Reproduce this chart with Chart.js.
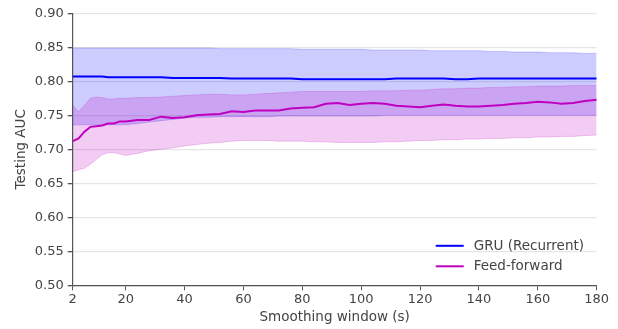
<!DOCTYPE html>
<html>
<head>
<meta charset="utf-8">
<script src="https://cdn.jsdelivr.net/npm/chart.js@4/dist/chart.umd.min.js"></script>
<style>
  html, body { margin: 0; padding: 0; background: #fff; }
  canvas { display: block; }
</style>
</head>
<body>
<canvas id="grafico" width="618" height="329"></canvas>
<script>
// =============================
// DADOS
// =============================

const janelas = [2, 4, 6, 8, 10, 12, 14, 16, 18, 20, 24, 28, 32, 36, 40, 44, 48, 52, 56, 60,
    64, 68, 72, 76, 80, 84, 88, 92, 96, 100, 104, 108, 112, 116, 120, 124, 128, 132, 136, 140,
    144, 148, 152, 156, 160, 164, 168, 172, 176, 180];

const gruMedia = [0.807, 0.807, 0.807, 0.807, 0.807, 0.807, 0.806, 0.806, 0.806, 0.806,
    0.806, 0.806, 0.806, 0.805, 0.805, 0.805, 0.805, 0.805, 0.804, 0.804,
    0.804, 0.804, 0.804, 0.804, 0.803, 0.803, 0.803, 0.803, 0.803, 0.803,
    0.803, 0.803, 0.804, 0.804, 0.804, 0.804, 0.804, 0.803, 0.803, 0.804,
    0.804, 0.804, 0.804, 0.804, 0.804, 0.804, 0.804, 0.804, 0.804, 0.804];

const gruSuperior = [0.849, 0.849, 0.849, 0.849, 0.849, 0.849, 0.849, 0.849, 0.849, 0.849,
    0.849, 0.849, 0.849, 0.849, 0.849, 0.849, 0.849, 0.848, 0.848, 0.848,
    0.848, 0.848, 0.848, 0.848, 0.847, 0.847, 0.847, 0.847, 0.847, 0.847,
    0.846, 0.846, 0.846, 0.846, 0.846, 0.845, 0.845, 0.845, 0.845, 0.845,
    0.844, 0.844, 0.843, 0.843, 0.843, 0.842, 0.842, 0.842, 0.841, 0.841];

const gruInferior = [0.736, 0.736, 0.736, 0.736, 0.736, 0.736, 0.736, 0.736, 0.736, 0.736,
    0.738, 0.740, 0.742, 0.744, 0.746, 0.747, 0.747, 0.748, 0.748, 0.748,
    0.748, 0.748, 0.749, 0.749, 0.749, 0.749, 0.749, 0.749, 0.749, 0.749,
    0.749, 0.750, 0.750, 0.750, 0.750, 0.750, 0.750, 0.750, 0.750, 0.750,
    0.750, 0.750, 0.750, 0.750, 0.750, 0.750, 0.750, 0.750, 0.750, 0.750];

const ffMedia = [0.712, 0.716, 0.726, 0.733, 0.734, 0.735, 0.738, 0.738, 0.741, 0.741,
    0.743, 0.743, 0.748, 0.746, 0.747, 0.750, 0.751, 0.752, 0.756, 0.755,
    0.757, 0.757, 0.757, 0.760, 0.761, 0.762, 0.767, 0.768, 0.765, 0.767,
    0.768, 0.767, 0.764, 0.763, 0.762, 0.764, 0.766, 0.764, 0.763, 0.763,
    0.764, 0.765, 0.767, 0.768, 0.770, 0.769, 0.767, 0.768, 0.771, 0.773];

const ffSuperior = [0.765, 0.755, 0.765, 0.775, 0.777, 0.776, 0.774, 0.774, 0.775, 0.775,
    0.776, 0.776, 0.777, 0.778, 0.779, 0.780, 0.781, 0.781, 0.780, 0.780,
    0.781, 0.782, 0.783, 0.784, 0.785, 0.785, 0.785, 0.785, 0.785, 0.785,
    0.786, 0.786, 0.786, 0.787, 0.787, 0.788, 0.789, 0.789, 0.790, 0.790,
    0.791, 0.791, 0.792, 0.792, 0.793, 0.793, 0.793, 0.794, 0.794, 0.794];

const ffInferior = [0.667, 0.670, 0.672, 0.678, 0.685, 0.692, 0.695, 0.695, 0.693, 0.691,
    0.694, 0.698, 0.700, 0.702, 0.705, 0.707, 0.709, 0.710, 0.712, 0.713,
    0.713, 0.713, 0.712, 0.712, 0.712, 0.711, 0.711, 0.710, 0.710, 0.710,
    0.710, 0.711, 0.711, 0.712, 0.713, 0.713, 0.714, 0.714, 0.715, 0.715,
    0.716, 0.716, 0.717, 0.717, 0.718, 0.718, 0.719, 0.719, 0.720, 0.721];

const nomesSeries = ['GRU (Recurrent)', 'Feed-forward'];
const ticksX = [2, 20, 40, 60, 80, 100, 120, 140, 160, 180];
const ticksY = [0.50, 0.55, 0.60, 0.65, 0.70, 0.75, 0.80, 0.85, 0.90];


// =============================
// FUNÇÕES AUXILIARES
// =============================

const AZUL = '#0000ff';
const MAGENTA = '#bf00bf';
const AZUL_BANDA = 'rgba(0, 0, 255, 0.2)';
const MAGENTA_BANDA = 'rgba(191, 0, 191, 0.2)';
const COR_EIXO = '#555555';
const COR_TEXTO = '#444444';
const FONTE = 'DejaVu Sans';

function pontos(valores) {
    return janelas.map((x, i) => ({ x: x, y: valores[i] }));
}

function linha(label, valores, cor) {
    return {
        label: label,
        data: pontos(valores),
        borderColor: cor,
        borderWidth: 2,
        pointRadius: 0,
        fill: false,
        tension: 0
    };
}

function limite(valores, corBanda, alvo) {
    return {
        label: '',
        data: pontos(valores),
        borderColor: corBanda,
        borderWidth: 1,
        backgroundColor: corBanda,
        pointRadius: 0,
        fill: alvo,
        tension: 0
    };
}

// legenda desenhada dentro da área do gráfico, canto inferior direito
const legendaInterna = {
    id: 'legendaInterna',
    afterDraw(chart) {
        const { ctx, chartArea } = chart;
        const cores = [AZUL, MAGENTA];
        const x0 = chartArea.right - 161;
        const y0 = chartArea.bottom - 39.5;

        ctx.save();
        ctx.font = '13.5px "' + FONTE + '"';
        ctx.fillStyle = COR_TEXTO;
        ctx.textBaseline = 'middle';

        nomesSeries.forEach((nome, i) => {
            const y = y0 + i * 20.5;
            ctx.strokeStyle = cores[i];
            ctx.lineWidth = 2;
            ctx.beginPath();
            ctx.moveTo(x0, y);
            ctx.lineTo(x0 + 28, y);
            ctx.stroke();
            ctx.fillText(nome, x0 + 38, y + 0.5);
        });

        ctx.restore();
    }
};


// =============================
// GRÁFICO
// =============================

const ctx = document.getElementById('grafico');

new Chart(ctx, {
    type: 'line',
    data: {
        datasets: [
            linha(nomesSeries[0], gruMedia, AZUL),
            linha(nomesSeries[1], ffMedia, MAGENTA),
            limite(ffInferior, MAGENTA_BANDA, false),
            limite(ffSuperior, MAGENTA_BANDA, 2),
            limite(gruInferior, AZUL_BANDA, false),
            limite(gruSuperior, AZUL_BANDA, 4)
        ]
    },
    options: {
        responsive: false,
        animation: false,
        devicePixelRatio: 1,
        layout: {
            padding: { left: 0, right: 21.3, top: 13.3, bottom: 0 }
        },
        plugins: {
            legend: { display: false },
            tooltip: { enabled: false }
        },
        scales: {
            x: {
                type: 'linear',
                min: 2,
                max: 180,
                afterBuildTicks: scale => {
                    scale.ticks = ticksX.map(v => ({ value: v }));
                },
                afterFit: scale => {
                    scale.height = 43.7;
                },
                ticks: {
                    color: COR_TEXTO,
                    font: { family: FONTE, size: 13 },
                    padding: 2,
                    maxRotation: 0,
                    callback: v => String(v)
                },
                grid: {
                    drawOnChartArea: false,
                    drawTicks: true,
                    tickLength: 5,
                    tickColor: COR_EIXO
                },
                border: { display: true, color: COR_EIXO, width: 1.2 },
                title: {
                    display: true,
                    text: 'Smoothing window (s)',
                    color: COR_TEXTO,
                    font: { family: FONTE, size: 13.5 },
                    padding: { top: 0, bottom: 3 }
                }
            },
            y: {
                min: 0.5,
                max: 0.9,
                afterBuildTicks: scale => {
                    scale.ticks = ticksY.map(v => ({ value: v }));
                },
                afterFit: scale => {
                    scale.width = 72.7;
                },
                ticks: {
                    color: COR_TEXTO,
                    font: { family: FONTE, size: 13 },
                    padding: 4,
                    callback: v => Number(v).toFixed(2)
                },
                grid: {
                    color: '#e5e5e5',
                    lineWidth: 1.3,
                    drawTicks: true,
                    tickLength: 5,
                    tickColor: COR_EIXO
                },
                border: { display: true, color: COR_EIXO, width: 1.2 },
                title: {
                    display: true,
                    text: 'Testing AUC',
                    color: COR_TEXTO,
                    font: { family: FONTE, size: 13.5 },
                    padding: { top: 13, bottom: 0 }
                }
            }
        }
    },
    plugins: [legendaInterna]
});
</script>
</body>
</html>
